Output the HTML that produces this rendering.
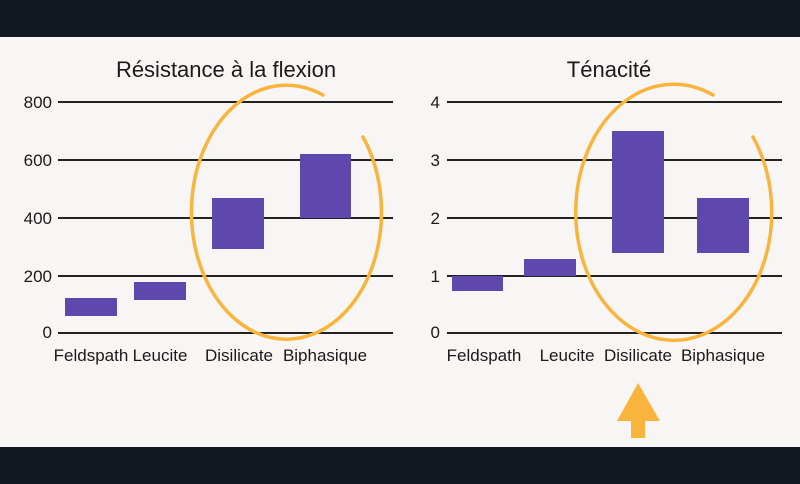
<!DOCTYPE html>
<html><head><meta charset="utf-8"><style>
html,body{margin:0;padding:0;width:800px;height:484px;overflow:hidden;background:#111820}
svg{display:block}
text{font-family:"Liberation Sans Narrow","Liberation Sans",sans-serif;fill:#1a1a1a}
</style></head><body>
<svg width="800" height="484" viewBox="0 0 800 484">
<rect x="0" y="37" width="800" height="410" fill="#f8f6f4"/>
<g stroke="#222" stroke-width="2">
<line x1="58" y1="102" x2="393" y2="102"/><line x1="58" y1="160" x2="393" y2="160"/><line x1="58" y1="218" x2="393" y2="218"/><line x1="58" y1="276" x2="393" y2="276"/><line x1="58" y1="333" x2="393" y2="333"/>
<line x1="447" y1="102" x2="782" y2="102"/><line x1="447" y1="160" x2="782" y2="160"/><line x1="447" y1="218" x2="782" y2="218"/><line x1="447" y1="276" x2="782" y2="276"/><line x1="447" y1="333" x2="782" y2="333"/>
</g>
<g fill="#5e48ad">
<rect x="65" y="298" width="52" height="18"/><rect x="134" y="282" width="52" height="18"/><rect x="212" y="198" width="52" height="51"/><rect x="300" y="154" width="51" height="64"/>
<rect x="452" y="276" width="51" height="15"/><rect x="524" y="259" width="52" height="17"/><rect x="612" y="131" width="52" height="122"/><rect x="697" y="198" width="52" height="55"/>
</g>
<g fill="none" stroke="#f8b43c" stroke-width="3.5" stroke-linecap="round">
<path d="M363 137 A95 127 0 1 1 323 95"/>
<path d="M753 137 A98 128 0 1 1 713 95"/>
</g>
<path d="M638 383 L660 421 L645 421 L645 438 L631 438 L631 421 L617 421 Z" fill="#f8b43c"/>
<g font-size="22" text-anchor="middle">
<text x="226" y="77">Résistance à la flexion</text>
<text x="609" y="77">Ténacité</text>
</g>
<g font-size="17" text-anchor="end">
<text x="52" y="108">800</text><text x="52" y="166">600</text><text x="52" y="224">400</text><text x="52" y="282">200</text><text x="52" y="338">0</text>
<text x="440" y="108">4</text><text x="440" y="166">3</text><text x="440" y="224">2</text><text x="440" y="282">1</text><text x="440" y="338">0</text>
</g>
<g font-size="17" text-anchor="middle">
<text x="91" y="361">Feldspath</text><text x="160" y="361">Leucite</text><text x="239" y="361">Disilicate</text><text x="325" y="361">Biphasique</text>
<text x="484" y="361">Feldspath</text><text x="567" y="361">Leucite</text><text x="638" y="361">Disilicate</text><text x="723" y="361">Biphasique</text>
</g>
</svg>
</body></html>
